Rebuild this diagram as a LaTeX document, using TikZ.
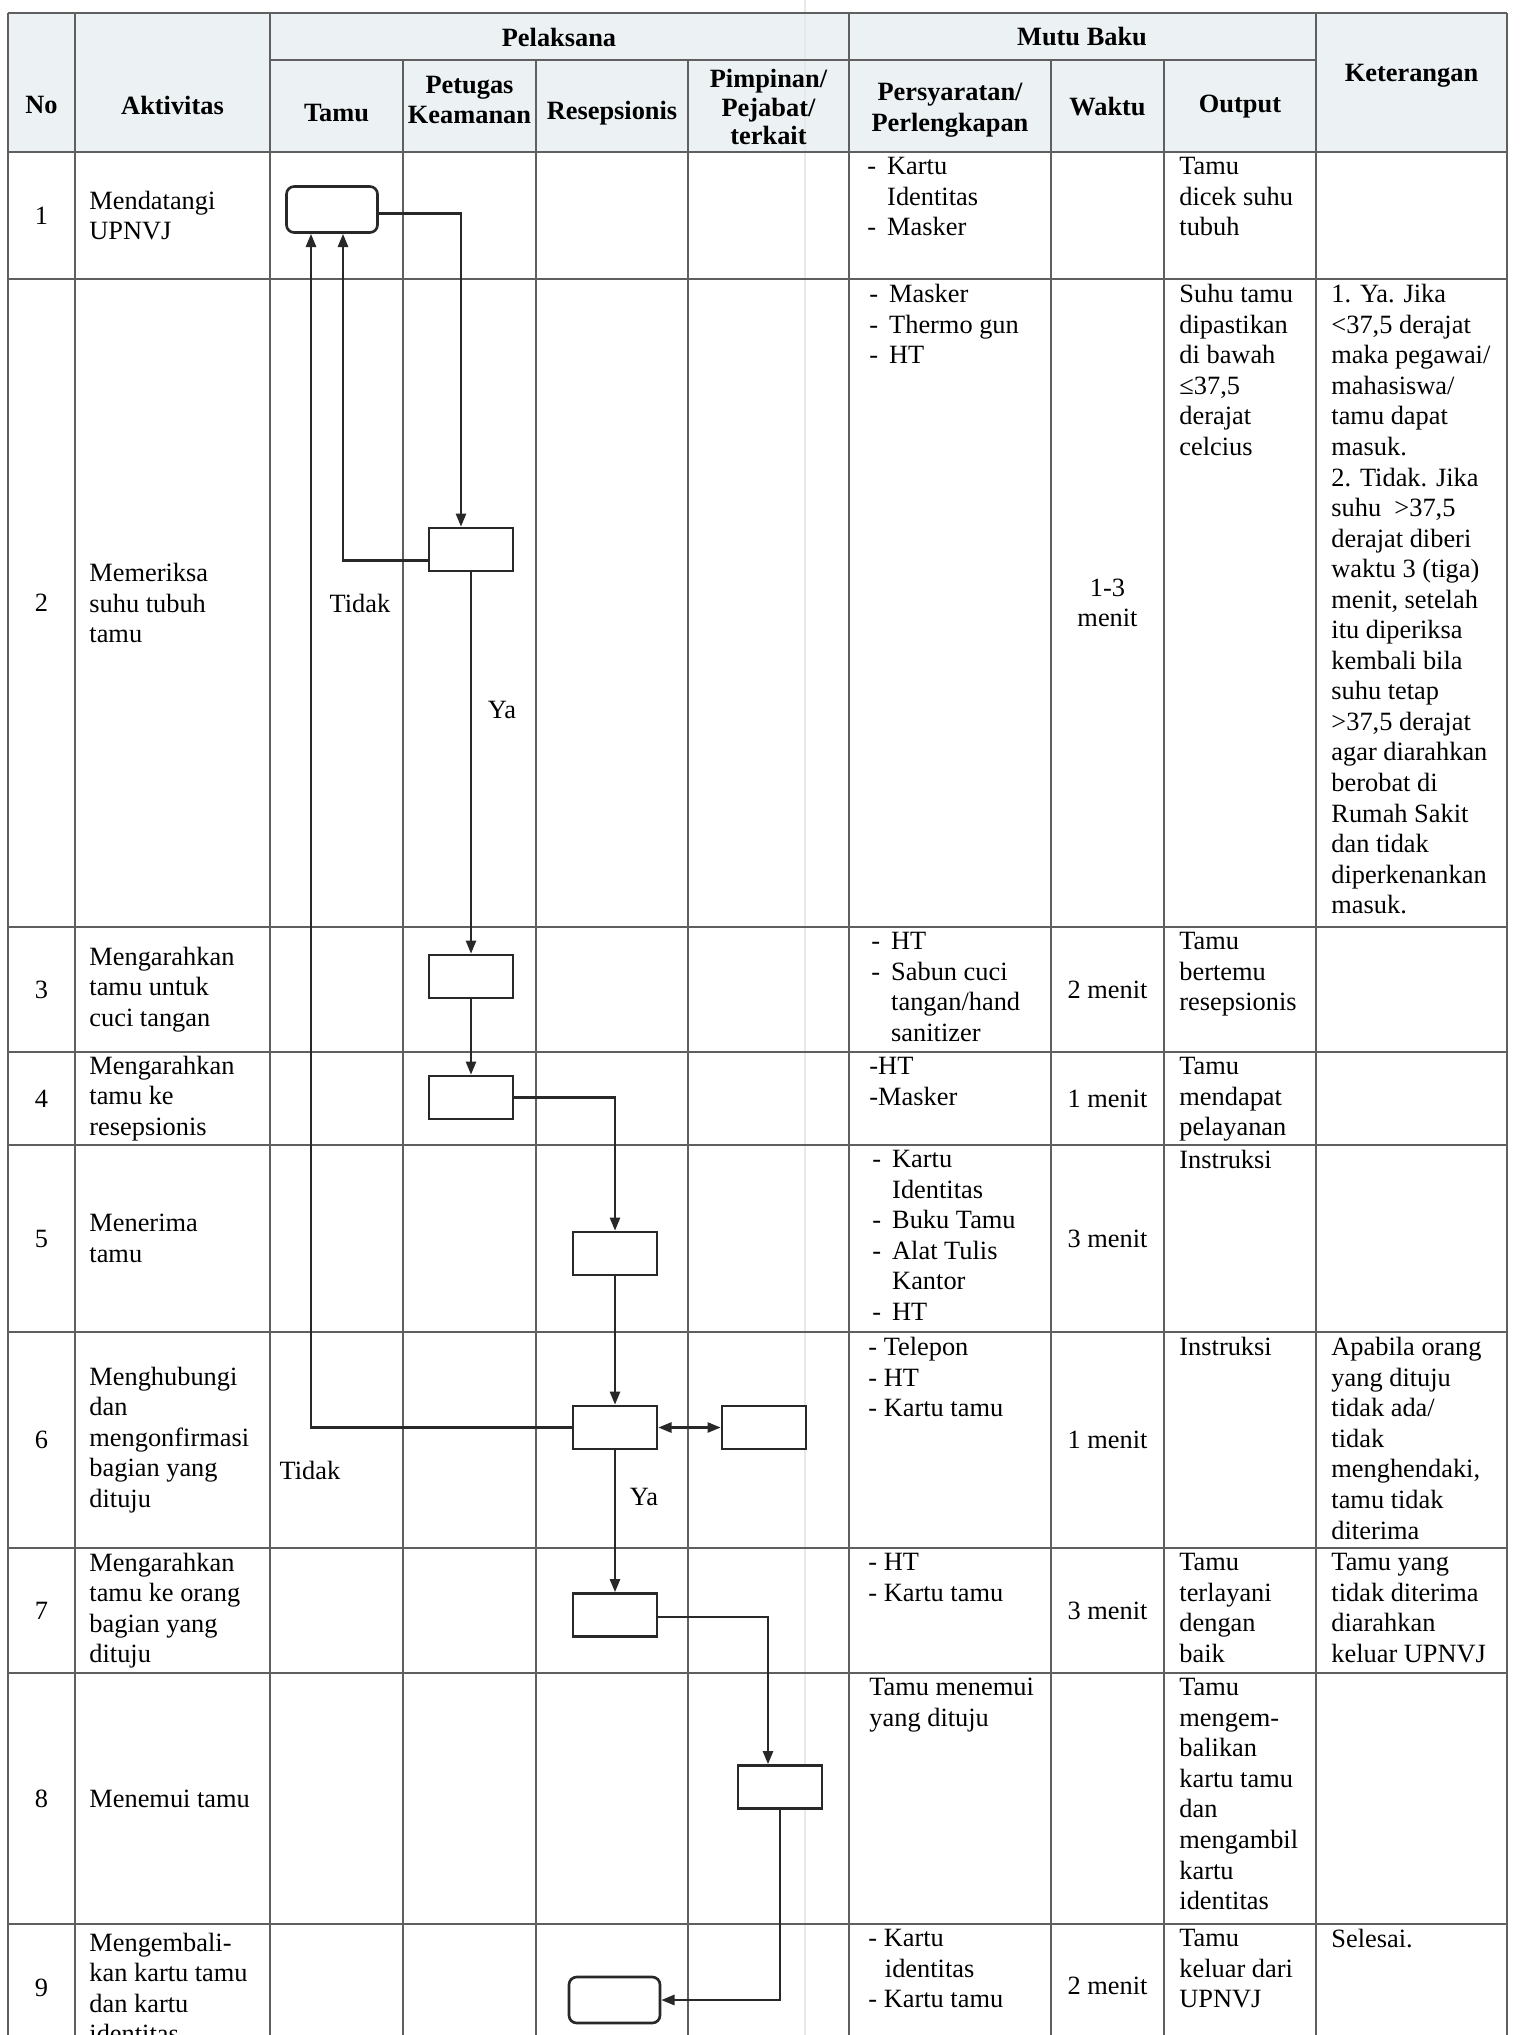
\documentclass[tikz,border=0pt]{standalone}
\usepackage{fontspec}
\setmainfont{Liberation Serif}
\usetikzlibrary{arrows.meta}
\usetikzlibrary{calc}
\usetikzlibrary{positioning}
\definecolor{headfill}{RGB}{236,241,244}
\definecolor{rulegray}{RGB}{95,95,95}
\definecolor{inkgray}{RGB}{40,40,40}
\newcommand{\bl}[1]{\makebox[9pt][l]{-}#1}
\newcommand{\ind}{\hspace*{9pt}}
\tikzset{
  txt/.style={inner sep=0pt, font=\fontsize{12}{13.9}\selectfont},
  cell/.style={txt, anchor=north west, align=left},
  act/.style={txt, anchor=west, align=left},
  num/.style={txt, align=center},
  head/.style={inner sep=0pt, align=center, font=\bfseries\fontsize{12}{14}\selectfont},
  proc/.style={draw=inkgray, line width=1.2pt, fill=white, inner sep=0pt,
    minimum width=84*0.455pt, minimum height=43*0.455pt},
  term/.style={proc, rounded corners=3.5pt, minimum width=91*0.455pt, minimum height=46*0.455pt},
  flow/.style={draw=inkgray, line width=1.1pt, -{Triangle[length=6pt,width=4.6pt]}},
  both/.style={flow, {Triangle[length=6pt,width=4.6pt]}-{Triangle[length=6pt,width=4.6pt]}},
  tabline/.style={draw=rulegray, line width=0.6pt}
}
\begin{document}
\begin{tikzpicture}[x=0.455pt,y=-0.455pt]
  \useasboundingbox (0,0) rectangle (1520,2035);
  \fill[white] (0,0) rectangle (1520,2035);
  \clip (0,0) rectangle (1520,2035);
  \def\bot{2060}
  \fill[headfill] (8,13) rectangle (1507,152);
  \draw[gray!18, line width=0.7pt] (805,0) -- (805,2035);
  \draw[tabline] (8,13) -- (1507,13);
  \draw[tabline] (270,60) -- (1316,60);
  \draw[tabline] (8,152) -- (1507,152);
  \draw[tabline] (8,279) -- (1507,279);
  \draw[tabline] (8,927) -- (1507,927);
  \draw[tabline] (8,1052) -- (1507,1052);
  \draw[tabline] (8,1145) -- (1507,1145);
  \draw[tabline] (8,1332) -- (1507,1332);
  \draw[tabline] (8,1548) -- (1507,1548);
  \draw[tabline] (8,1673) -- (1507,1673);
  \draw[tabline] (8,1924) -- (1507,1924);
  \draw[tabline] (8,13) -- (8,\bot);
  \draw[tabline] (75,13) -- (75,\bot);
  \draw[tabline] (270,13) -- (270,\bot);
  \draw[tabline] (849,13) -- (849,\bot);
  \draw[tabline] (1316,13) -- (1316,\bot);
  \draw[tabline] (1507,13) -- (1507,\bot);
  \draw[tabline] (403,60) -- (403,\bot);
  \draw[tabline] (536,60) -- (536,\bot);
  \draw[tabline] (688,60) -- (688,\bot);
  \draw[tabline] (1051,60) -- (1051,\bot);
  \draw[tabline] (1164,60) -- (1164,\bot);

  \node[head] (hNo) at (41.5,105) {No};
  \node[head] (hAkt) at (172.5,105) {Aktivitas};
  \node[head] (hPel) at (559,37) {Pelaksana};
  \node[head] (hMutu) at (1082,37) {Mutu Baku};
  \node[head] (hKet) at (1411.5,76) {Keterangan};
  \node[head] (hTamu) at (336.5,113) {Tamu};
  \node[head] (hPet) at (469.5,100) {Petugas\\Keamanan};
  \node[head] (hRes) at (612,113) {Resepsionis};
  \node[head, font=\bfseries\fontsize{12}{13}\selectfont] (hPim) at (768.5,107) {Pimpinan/\\Pejabat/\\terkait};
  \node[head] (hReq) at (950,110) {Persyaratan/\\Perlengkapan};
  \node[head] (hWaktu) at (1107.5,107) {Waktu};
  \node[head] (hOut) at (1240,107) {Output};

  \node[num] (n1) at (41.5,215.5) {1};
  \node[num] (n2) at (41.5,603) {2};
  \node[num] (n3) at (41.5,989.5) {3};
  \node[num] (n4) at (41.5,1098.5) {4};
  \node[num] (n5) at (41.5,1238.5) {5};
  \node[num] (n6) at (41.5,1440) {6};
  \node[num] (n7) at (41.5,1610.5) {7};
  \node[num] (n8) at (41.5,1798.5) {8};
  \node[num] (n9) at (41.5,1988) {9};

  \node[act] (act1) at (89,215.5) {Mendatangi\\UPNVJ};
  \node[act] (act2) at (89,603) {Memeriksa\\suhu tubuh\\tamu};
  \node[act] (act3) at (89,989.5) {Mengarahkan\\tamu untuk\\cuci tangan};
  \node[act] (act4) at (89,1098.5) {Mengarahkan\\tamu ke\\resepsionis};
  \node[act] (act5) at (89,1238.5) {Menerima\\tamu};
  \node[act] (act6) at (89,1440) {Menghubungi\\dan\\mengonfirmasi\\bagian yang\\dituju};
  \node[act] (act7) at (89,1610.5) {Mengarahkan\\tamu ke orang\\bagian yang\\dituju};
  \node[act] (act8) at (89,1798.5) {Menemui tamu};
  \node[act] (act9) at (89,1988) {Mengembali-\\kan kartu tamu\\dan kartu\\identitas};

  \node[cell] (req1) at (867,157) {\bl{Kartu}\\\ind Identitas\\\bl{Masker}};
  \node[cell] (req2) at (869,284) {\bl{Masker}\\\bl{Thermo gun}\\\bl{HT}};
  \node[cell] (req3) at (871,932) {\bl{HT}\\\bl{Sabun cuci}\\\ind tangan/hand\\\ind sanitizer};
  \node[cell] (req4) at (869,1057) {-HT\\-Masker};
  \node[cell] (req5) at (872,1150) {\bl{Kartu}\\\ind Identitas\\\bl{Buku Tamu}\\\bl{Alat Tulis}\\\ind Kantor\\\bl{HT}};
  \node[cell] (req6) at (868,1337) {- Telepon\\- HT\\- Kartu tamu};
  \node[cell] (req7) at (868,1553) {- HT\\- Kartu tamu};
  \node[cell] (req8) at (869,1678) {Tamu menemui\\yang dituju};
  \node[cell] (req9) at (868,1929) {- Kartu\\\hspace*{7.5pt}identitas\\- Kartu tamu};

  \node[num] (t2) at (1107.5,603) {1-3\\menit};
  \node[num] (t3) at (1107.5,989.5) {2 menit};
  \node[num] (t4) at (1107.5,1098.5) {1 menit};
  \node[num] (t5) at (1107.5,1238.5) {3 menit};
  \node[num] (t6) at (1107.5,1440) {1 menit};
  \node[num] (t7) at (1107.5,1610.5) {3 menit};
  \node[num] (t9) at (1107.5,1986) {2 menit};

  \node[cell] (out1) at (1179,157) {Tamu\\dicek suhu\\tubuh};
  \node[cell] (out2) at (1179,284) {Suhu tamu\\dipastikan\\di bawah\\≤37,5\\derajat\\celcius};
  \node[cell] (out3) at (1179,932) {Tamu\\bertemu\\resepsionis};
  \node[cell] (out4) at (1179,1057) {Tamu\\mendapat\\pelayanan};
  \node[cell] (out5) at (1179,1150) {Instruksi};
  \node[cell] (out6) at (1179,1337) {Instruksi};
  \node[cell] (out7) at (1179,1553) {Tamu\\terlayani\\dengan\\baik};
  \node[cell] (out8) at (1179,1678) {Tamu\\mengem-\\balikan\\kartu tamu\\dan\\mengambil\\kartu\\identitas};
  \node[cell] (out9) at (1179,1929) {Tamu\\keluar dari\\UPNVJ};

  \node[cell] (note2) at (1331,284) {1. Ya. Jika\\<37,5 derajat\\maka pegawai/\\mahasiswa/\\tamu dapat\\masuk.\\2. Tidak. Jika\\suhu\ \ >37,5\\derajat diberi\\waktu 3 (tiga)\\menit, setelah\\itu diperiksa\\kembali bila\\suhu tetap\\>37,5 derajat\\agar diarahkan\\berobat di\\Rumah Sakit\\dan tidak\\diperkenankan\\masuk.};
  \node[cell] (note6) at (1331,1337) {Apabila orang\\yang dituju\\tidak ada/\\tidak\\menghendaki,\\tamu tidak\\diterima};
  \node[cell] (note7) at (1331,1553) {Tamu yang\\tidak diterima\\diarahkan\\keluar UPNVJ};
  \node[cell] (note9) at (1331,1929) {Selesai.};

  \node[term] (start) at (332,209.5) {};
  \node[proc] (check) at (471,549.5) {};
  \node[proc] (wash) at (471,976.5) {};
  \node[proc] (guide) at (471,1097.5) {};
  \node[proc] (recv) at (615,1253.5) {};
  \node[proc] (call) at (615,1427.5) {};
  \node[proc] (host) at (764,1427.5) {};
  \node[proc] (lead) at (615,1615) {};
  \node[proc] (meet) at (780,1787) {};
  \node[term] (back) at (614.5,2000) {};

  \draw[flow] ($(start.east)+(0,4)$) -| ($(check.north)+(-10,0)$);
  \draw[flow] ($(check.west)+(0,11)$) -| ($(start.south)+(11,0)$);
  \draw[flow] (call.west) -| ($(start.south)+(-21,0)$);
  \draw[flow] (check) -- (wash);
  \draw[flow] (wash) -- (guide);
  \draw[flow] (guide.east) -| (recv.north);
  \draw[flow] (recv) -- (call);
  \draw[both] (call) -- (host);
  \draw[flow] (call) -- (lead);
  \draw[flow] ($(lead.east)+(0,2)$) -| ($(meet.north)+(-12,0)$);
  \draw[flow] (meet.south) |- (back.east);

  \node[txt] (noA) at (360,603) {Tidak};
  \node[txt] (yesA) at (502,710) {Ya};
  \node[txt] (noB) at (310,1470) {Tidak};
  \node[txt] (yesB) at (644,1497) {Ya};
\end{tikzpicture}
\end{document}
